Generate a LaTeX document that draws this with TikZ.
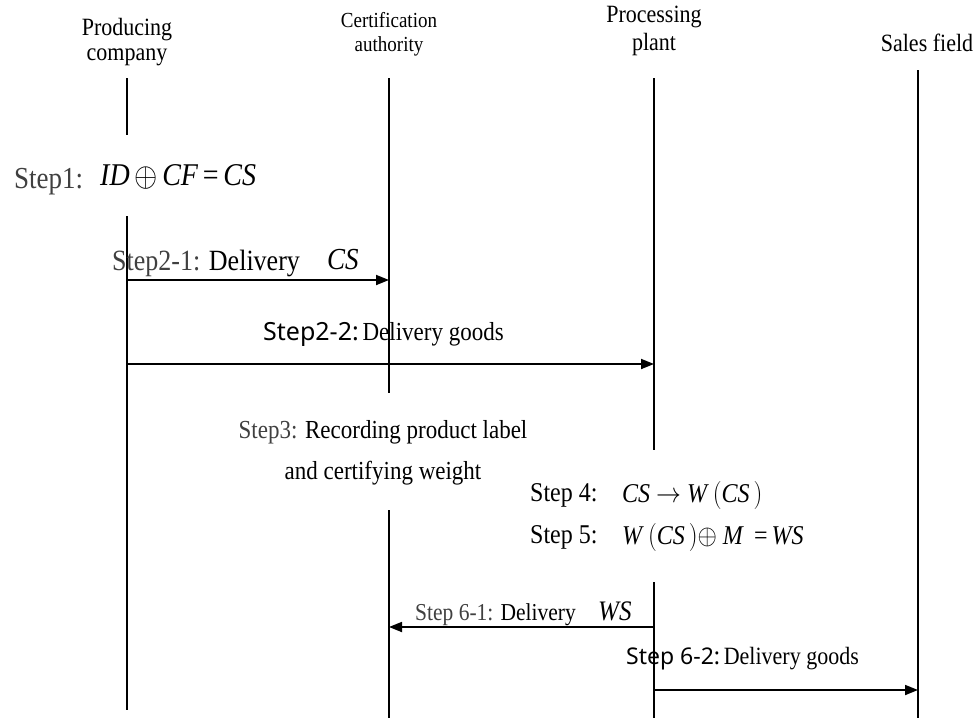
\documentclass[tikz,border=0pt]{standalone}
\usepackage{graphicx}
\usepackage{fontspec}
\setmainfont{Liberation Serif}
\newfontfamily\sansf{Noto Sans}
\usetikzlibrary{arrows.meta}
\newcommand{\fs}[1]{\fontsize{#1}{#1}\selectfont}
\newcommand{\tall}[1]{\scalebox{1}[1.13]{#1}}
\newcommand{\bigox}{\,\raisebox{-0.04em}{\scalebox{1.2}{$\oplus$}}\,}
\begin{document}
\begin{tikzpicture}[x=1pt,y=-1pt,
  life/.style={line width=1.8pt},
  msg/.style={line width=1.8pt,-{Triangle[length=13pt,width=10pt]}},
  lbl/.style={inner sep=0pt, anchor=west},
  ctr/.style={inner sep=0pt, anchor=center},
  grey/.style={text=black!75}]
\useasboundingbox (0,0) rectangle (977,718);

% headers
\node[ctr, font=\fs{22}] (hpc1) at (127,30) {\tall{Producing}};
\node[ctr, font=\fs{22}] (hpc2) at (127,57) {\tall{company}};
\node[ctr, font=\fs{19}] (hca1) at (389,20) {\tall{Certification}};
\node[ctr, font=\fs{19}] (hca2) at (389,46) {\tall{authority}};
\node[ctr, font=\fs{22}] (hpp1) at (654,17) {\tall{Processing}};
\node[ctr, font=\fs{22}] (hpp2) at (654,45) {\tall{plant}};
\node[ctr, font=\fs{22}] (hsf) at (927,43) {\tall{Sales field}};

% lifeline coordinates
\coordinate (pcT) at (127,78);  \coordinate (pcA) at (127,135);
\coordinate (pcB) at (127,216); \coordinate (pcE) at (127,710);
\coordinate (caT) at (389,78);  \coordinate (caA) at (389,393);
\coordinate (caB) at (389,510); \coordinate (caE) at (389,718);
\coordinate (ppT) at (654,78);  \coordinate (ppA) at (654,450);
\coordinate (ppB) at (654,582); \coordinate (ppE) at (654,718);
\coordinate (sfT) at (918,70);  \coordinate (sfE) at (918,718);

\draw[life] (pcT) -- (pcA);
\draw[life] (pcB) -- (pcE);
\draw[life] (caT) -- (caA);
\draw[life] (caB) -- (caE);
\draw[life] (ppT) -- (ppA);
\draw[life] (ppB) -- (ppE);
\draw[life] (sfT) -- (sfE);

% message end points
\coordinate (pc21) at (127,280); \coordinate (ca21) at (389,280);
\coordinate (pc22) at (127,364); \coordinate (pp22) at (654,364);
\coordinate (pp61) at (654,627); \coordinate (ca61) at (389,627);
\coordinate (pp62) at (654,690); \coordinate (sf62) at (918,690);

\draw[msg] (pc21) -- (ca21);
\draw[msg] (pc22) -- (pp22);
\draw[msg] (pp61) -- (ca61);
\draw[msg] (pp62) -- (sf62);

% labels
\node[lbl, grey, font=\fs{27}] (s1) at (14,182) {\tall{Step1:}};
\node[lbl, font=\fs{28}] (s1m) at (100,177) {\tall{\textit{ID}\bigox\textit{CF}\,=\,\textit{CS}}};

\node[lbl, font=\fs{26}] (s21) at (112,263) {\tall{\textcolor{black!75}{Step2-1:} Delivery}};
\node[lbl, font=\fs{27}] (s21m) at (327,260) {\tall{\textit{CS}}};

\node[lbl] (s22) at (263,334) {{\sansf\fs{25}Step2-2:}{\fs{23}\,\tall{Delivery goods}}};

\node[ctr, font=\fs{23}] (s3a) at (383,432) {\tall{\textcolor{black!75}{Step3:} Recording product label}};
\node[ctr, font=\fs{23}] (s3b) at (383,473) {\tall{and certifying weight}};

\node[lbl, font=\fs{24}] (s4) at (530,495) {\tall{Step 4:}};
\node[lbl, font=\fs{24}] (s4m) at (622,495) {\tall{\textit{CS}\ $\rightarrow$\ \textit{W}\,$\big($\textit{CS}\,$\big)$}};
\node[lbl, font=\fs{24}] (s5) at (530,537) {\tall{Step 5:}};
\node[lbl, font=\fs{24}] (s5m) at (622,537) {\tall{\textit{W}\,$\big($\textit{CS}\,$\big)$$\oplus$\ \textit{M}\ \,=\,\textit{WS}}};

\node[lbl, grey, font=\fs{21.5}] (s61) at (415,615) {\tall{Step 6-1: \textcolor{black}{Delivery}}};
\node[lbl, font=\fs{25}] (s61m) at (598,611) {\tall{\textit{WS}}};

\node[lbl] (s62) at (626,659) {{\sansf\fs{23}Step 6-2:}{\fs{22}\,\tall{Delivery goods}}};
\end{tikzpicture}
\end{document}
